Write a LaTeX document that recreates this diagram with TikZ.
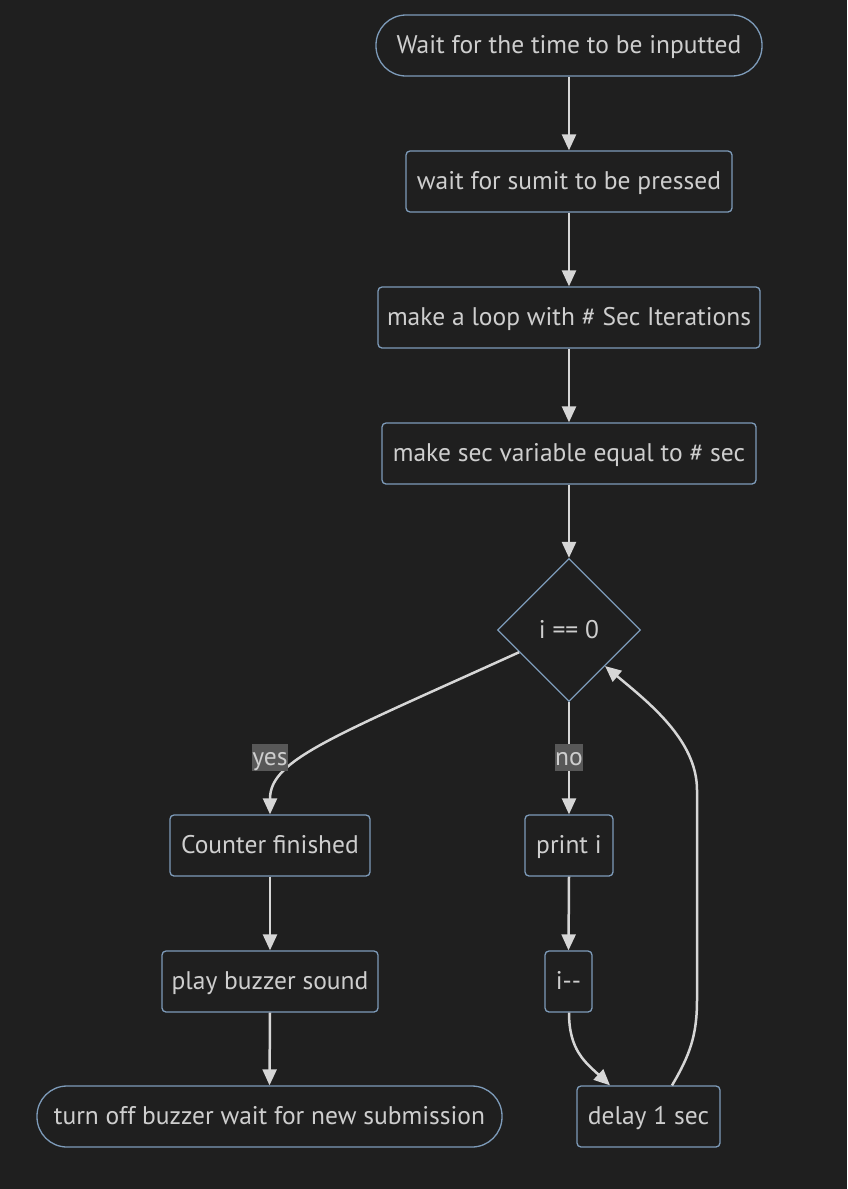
\documentclass[tikz,border=0pt]{standalone}
\usepackage{fontspec}
\setmainfont{PT Sans}
\usetikzlibrary{shapes.geometric,arrows.meta,calc}
\definecolor{bgc}{RGB}{31,31,31}
\definecolor{bordc}{RGB}{125,155,185}
\definecolor{txtc}{RGB}{206,206,206}
\definecolor{arrc}{RGB}{214,214,214}
\definecolor{lblc}{RGB}{88,88,88}
\tikzset{
  box/.style={draw=bordc, fill=bgc, line width=1.3pt, rounded corners=4pt, text=txtc, inner sep=0pt, minimum height=61pt, text height=20pt, text depth=4pt, font=\fontsize{25.5}{30}\selectfont},
  stad/.style={box, rounded corners=30pt},
  dec/.style={draw=bordc, fill=bgc, line width=1.3pt, diamond, aspect=1, text=txtc, inner sep=0pt, minimum width=143pt, minimum height=143pt, text height=20pt, text depth=4pt, font=\fontsize{25.5}{30}\selectfont},
  conn/.style={draw=arrc, line width=2.5pt, -{Triangle[length=16pt,width=14pt]}},
  lbl/.style={fill=lblc, text=txtc, inner sep=0pt, minimum height=27pt, text height=20pt, text depth=4pt, font=\fontsize{25.5}{30}\selectfont}
}
\begin{document}
\begin{tikzpicture}[x=1pt,y=-1pt]
\fill[bgc] (0,0) rectangle (847,1189);
\useasboundingbox (0,0) rectangle (847,1189);
\node[stad, minimum width=386pt] (n1) at (569,45.5) {Wait for the time to be inputted};
\node[box, minimum width=326pt] (n2) at (569,181.5) {wait for sumit to be pressed};
\node[box, minimum width=382pt] (n3) at (569,317.5) {make a loop with \# Sec Iterations};
\node[box, minimum width=374pt] (n4) at (569,453.5) {make sec variable equal to \# sec};
\node[dec] (d) at (569,630) {i == 0};
\node[box, minimum width=200pt] (cf) at (270,845.5) {Counter finished};
\node[box, minimum width=88pt] (pi) at (569,845.5) {print i};
\node[box, minimum width=216pt] (pb) at (270,981.5) {play buzzer sound};
\node[box, minimum width=47pt] (im) at (568.5,981.5) {i-{}-};
\node[stad, minimum width=465pt] (to) at (269.5,1116.5) {turn off buzzer wait for new submission};
\node[box, minimum width=143pt] (dl) at (648.5,1116.5) {delay 1 sec};

\draw[conn] (n1.south) -- (n2.north);
\draw[conn] (n2.south) -- (n3.north);
\draw[conn] (n3.south) -- (n4.north);
\draw[conn] (n4.south) -- (d.north);
\draw[conn] (d.204) .. controls (330,738) and (270,760) .. (cf.north);
\draw[conn] (d.south) -- (pi.north);
\draw[conn] (cf.south) -- (pb.north);
\draw[conn] (pb.south) -- (to.north);
\draw[conn] (pi.south) -- (im.north);
\draw[conn] ($(im.south)+(0.5,0)$) .. controls (569,1050) and (585,1062) .. ($(dl.north)+(-38.5,0)$);
\draw[conn] ($(dl.north)+(23.5,0)$) .. controls (690,1055) and (697,1035) .. (697,1000) -- (697,790) .. controls (697,740) and (648,702) .. (d.south east);
\node[lbl, minimum width=34pt] (ly) at (270,757.5) {yes};
\node[lbl, minimum width=26pt] (ln) at (569,757.5) {no};
\end{tikzpicture}
\end{document}
